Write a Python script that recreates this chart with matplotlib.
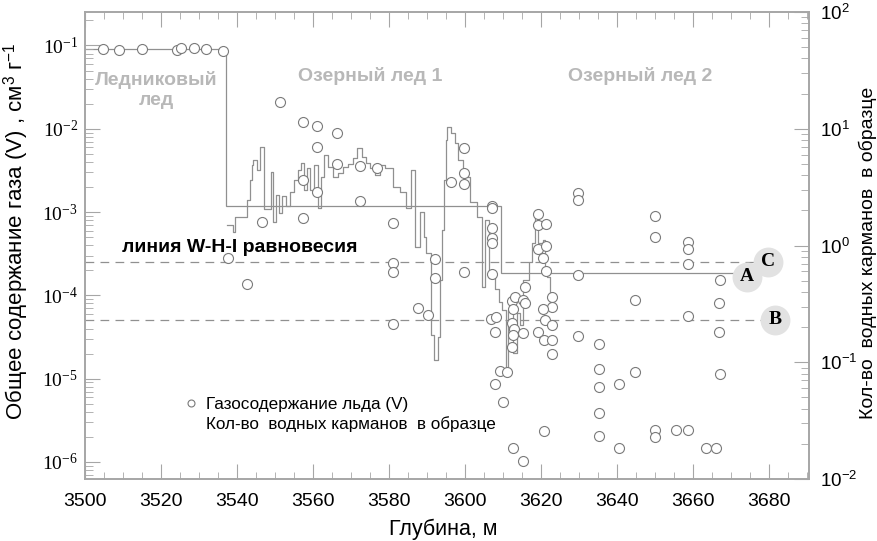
import numpy as np
import matplotlib
matplotlib.use("Agg")
import matplotlib.pyplot as plt
from matplotlib.ticker import LogLocator, FuncFormatter, MultipleLocator, NullFormatter
from matplotlib.lines import Line2D

plt.rcParams["font.family"] = "Liberation Sans"
plt.rcParams["mathtext.fontset"] = "custom"
plt.rcParams["mathtext.rm"] = "Liberation Serif"
plt.rcParams["mathtext.sf"] = "Liberation Sans"
plt.rcParams["mathtext.it"] = "Liberation Serif:italic"
plt.rcParams["mathtext.bf"] = "Liberation Serif:bold"

# gas content of ice samples (left axis), depth in m, V in cm3/g
gas_depth = [3504.7, 3508.9, 3515.0, 3524.2, 3525.3, 3528.7, 3531.8, 3536.3,
             3537.7, 3542.6, 3546.7, 3551.3, 3557.3, 3557.3, 3557.3, 3561.0,
             3561.0, 3561.0, 3566.2, 3566.2, 3572.4, 3572.4, 3576.8, 3581.1,
             3581.1, 3581.1, 3581.1, 3587.7, 3590.3, 3592.1, 3592.1, 3596.3,
             3599.7, 3599.7, 3599.8, 3599.7, 3606.8, 3607.2, 3607.2, 3607.2,
             3607.2, 3607.2, 3607.2, 3608.1, 3607.9, 3607.9, 3609.2, 3611.0,
             3609.9, 3612.3, 3613.2, 3612.7, 3615.3, 3615.8, 3615.8, 3612.3,
             3613.0, 3612.7, 3612.3, 3615.2, 3612.7, 3615.2, 3619.1, 3619.1,
             3621.2, 3619.1, 3621.3, 3620.6, 3621.3, 3622.8, 3622.8, 3620.6,
             3621.1, 3622.8, 3619.1, 3620.8, 3622.8, 3622.8, 3620.8, 3629.6,
             3629.6, 3629.6, 3629.6, 3635.3, 3635.3, 3635.3, 3635.3, 3635.3,
             3640.6, 3640.6, 3644.6, 3644.6, 3650.0, 3650.0, 3650.0, 3650.0,
             3655.5, 3658.6, 3658.6, 3658.6, 3658.6, 3658.6, 3663.4, 3666.1,
             3667.1, 3666.9, 3666.9, 3667.1]
gas_v = [0.090, 0.087, 0.090, 0.088, 0.093, 0.093, 0.090, 0.085,
         2.79e-4, 1.36e-4, 7.5e-4, 2.11e-2, 1.22e-2, 2.43e-3, 8.6e-4, 1.08e-2,
         6.1e-3, 1.76e-3, 8.8e-3, 3.75e-3, 3.57e-3, 1.37e-3, 3.36e-3, 7.46e-4,
         2.47e-4, 1.89e-4, 4.54e-5, 7.1e-5, 5.8e-5, 2.71e-4, 1.63e-4, 2.32e-3,
         5.8e-3, 2.97e-3, 2.17e-3, 1.93e-4, 5.16e-5, 1.18e-3, 1.12e-3, 6.4e-4,
         4.84e-4, 4.22e-4, 1.81e-4, 5.46e-5, 3.6e-5, 8.6e-6, 1.24e-5, 1.21e-5,
         5.2e-6, 8.6e-5, 9.6e-5, 6.8e-5, 8.8e-5, 8.2e-5, 1.25e-4, 4.6e-5,
         4.0e-5, 3.3e-5, 2.4e-5, 3.5e-5, 1.46e-6, 1.03e-6, 9.4e-4, 7.0e-4,
         7.2e-4, 3.57e-4, 3.92e-4, 2.79e-4, 1.96e-4, 9.5e-5, 7.3e-5, 6.8e-5,
         5.07e-5, 4.42e-5, 3.67e-5, 2.92e-5, 2.92e-5, 1.96e-5, 2.38e-6, 1.68e-3,
         1.40e-3, 1.76e-4, 3.26e-5, 2.59e-5, 1.31e-5, 7.94e-6, 3.85e-6, 2.05e-6,
         8.6e-6, 1.49e-6, 8.8e-5, 1.21e-5, 8.97e-4, 5.07e-4, 2.42e-6, 2.01e-6,
         2.42e-6, 4.33e-4, 3.64e-4, 2.36e-4, 5.7e-5, 2.42e-6, 1.49e-6, 1.49e-6,
         1.53e-4, 8.2e-5, 3.67e-5, 1.14e-5]

# mean gas content of each ice type (left axis)
mean_edges = [3500.0, 3537.0, 3609.4, 3674.0]
mean_gas = [0.090, 1.18e-3, 1.87e-4]

# number of water pockets per sample (right axis), step profile
pocket_depth = [3537.3, 3539.0, 3539.5, 3542.6, 3543.4, 3543.9, 3544.3, 3545.2,
                3546.1, 3547.2, 3548.9, 3549.5, 3550.3, 3551.1, 3551.8, 3552.9,
                3553.9, 3555.0, 3556.1, 3556.8, 3557.6, 3558.4, 3559.2, 3560.3,
                3561.3, 3562.1, 3562.9, 3563.9, 3565.3, 3566.6, 3567.9, 3569.2,
                3570.5, 3571.6, 3572.9, 3573.9, 3575.0, 3576.3, 3577.6, 3578.9,
                3581.1, 3582.9, 3584.5, 3585.8, 3586.8, 3588.2, 3589.2, 3589.7,
                3591.1, 3591.8, 3592.9, 3593.4, 3593.9, 3594.5, 3595.0, 3595.3,
                3596.3, 3597.4, 3598.2, 3599.5, 3601.3, 3603.2, 3604.5, 3605.3,
                3606.3, 3607.9, 3608.9, 3609.7, 3610.8, 3611.3, 3612.6, 3613.6,
                3614.5, 3615.3, 3616.8, 3617.6, 3618.4, 3619.2, 3620.5, 3621.1,
                3621.6, 3622.4, 3623.2]
pocket_count = [1.50, 1.31, 1.77, 2.45, 3.64, 4.89, 5.40, 4.43,
                7.02, 2.05, 4.29, 1.59, 2.71, 1.90, 2.65, 2.18,
                2.89, 3.64, 4.43, 5.09, 2.99, 4.61, 2.99, 4.89,
                2.10, 3.86, 5.96, 4.70, 3.86, 4.18, 4.70, 4.99,
                5.62, 6.84, 5.73, 5.09, 4.61, 4.02, 4.89, 4.61,
                3.17, 2.87, 2.10, 4.43, 0.97, 1.94, 1.18, 0.86,
                0.171, 0.104, 0.164, 0.51, 1.36, 3.64, 8.01, 10.35,
                9.20, 7.55, 5.40, 3.86, 2.36, 1.75, 0.44, 1.65,
                0.53, 0.42, 0.33, 0.28, 0.082, 0.28, 0.12, 0.264,
                0.21, 0.51, 0.72, 1.05, 1.79, 1.05, 1.11, 0.65,
                0.54, 0.33, 0.33]

# W-H-I equilibrium levels and marked points
whi_levels = [2.54e-4, 5.07e-5]
whi_end = [3679.8, 3681.6]
mark_names = ["C", "A", "B"]
mark_depth = [3679.8, 3674.1, 3681.6]
mark_v = [2.54e-4, 1.67e-4, 5.07e-5]

zones = ["Ледниковый\nлед", "Озерный лед 1", "Озерный лед 2"]
zone_x = [0.098, 0.394, 0.767]
zone_y = [0.833, 0.863, 0.863]

axis_gray = "#a6a6a6"
line_gray = "#909090"
mark_gray = "#7a7a7a"

fig = plt.figure(figsize=(8.77, 5.41), dpi=100)
ax = fig.add_axes([0.0969, 0.1146, 0.8255, 0.8632])
ax2 = ax.twinx()
ax.set_zorder(ax2.get_zorder() + 1)
ax.patch.set_visible(False)

ax.set_yscale("log")
ax2.set_yscale("log")

ax2.plot(pocket_depth, pocket_count, drawstyle="steps-post", color=line_gray, lw=0.9)
ax.stairs(mean_gas, mean_edges, baseline=None, color=line_gray, lw=0.9)

for lvl, xe in zip(whi_levels, whi_end):
    ax.hlines(lvl, 3500, xe, colors=line_gray, linestyles=(0, (7, 5)), lw=0.9)

ax.plot(gas_depth, gas_v, "o", ls="none", ms=7.2, mfc="white", mec=mark_gray,
        mew=0.8, zorder=4)

for name, d, v in zip(mark_names, mark_depth, mark_v):
    ax.plot(d, v, "o", ms=21.5, mfc="#e2e2e2", mec="none", zorder=5)
    ax.text(d, v, name, ha="center", va="center", fontsize=14, fontweight="bold",
            family="Liberation Serif", zorder=6)

for txt, zx, zy in zip(zones, zone_x, zone_y):
    ax.text(zx, zy, txt, transform=ax.transAxes, ha="center", va="center",
            fontsize=14, fontweight="bold", color="#b8b8b8", linespacing=1.2)

ax.text(0.051, 0.495, "линия W-H-I равновесия", transform=ax.transAxes,
        ha="left", va="center", fontsize=14, fontweight="bold")

handles = [
    Line2D([], [], ls="none", marker="o", ms=5, mfc="white", mec=mark_gray, mew=0.8),
    Line2D([], [], color="white", lw=0),
]
ax.legend(handles, ["Газосодержание льда (V)", "Кол-во  водных карманов  в образце"],
          loc="upper left", bbox_to_anchor=(0.137, 0.176), frameon=False,
          fontsize=12.3, handlelength=0.8, handletextpad=0.45, borderpad=0,
          borderaxespad=0, labelspacing=0.28)

ax.set_xlim(3500, 3690.5)
ax.set_ylim(6.25e-7, 0.252)
ax2.set_ylim(1e-2, 1e2)

ax.xaxis.set_major_locator(MultipleLocator(20))
ax.xaxis.set_minor_locator(MultipleLocator(5))
for a in (ax, ax2):
    a.yaxis.set_major_locator(LogLocator(base=10, numticks=20))
    a.yaxis.set_minor_locator(LogLocator(base=10, subs=np.arange(2, 10), numticks=20))
    a.yaxis.set_minor_formatter(NullFormatter())
ax.yaxis.set_major_formatter(FuncFormatter(lambda v, p: r"$\mathrm{10^{%d}}$" % round(np.log10(v))))
ax2.yaxis.set_major_formatter(FuncFormatter(lambda v, p: r"$\mathsf{10^{%d}}$" % round(np.log10(v))))

ax.tick_params(axis="x", which="both", direction="in", top=True, color=axis_gray,
               labelsize=14, pad=10)
ax.tick_params(axis="x", which="major", length=11)
ax.tick_params(axis="x", which="minor", length=5)
ax.tick_params(axis="y", which="both", direction="in", color=axis_gray, labelsize=14, pad=5)
ax.tick_params(axis="y", which="major", length=11)
ax.tick_params(axis="y", which="minor", length=6)
ax2.tick_params(axis="y", which="both", direction="in", color=axis_gray, labelsize=13.5, pad=8)
ax2.tick_params(axis="y", which="major", length=11)
ax2.tick_params(axis="y", which="minor", length=6)

for a in (ax, ax2):
    for s in a.spines.values():
        s.set_color(axis_gray)
        s.set_linewidth(1.2)

ax.set_xlabel("Глубина, м", fontsize=15.5)
ax.xaxis.set_label_coords(0.495, -0.084)
ax.set_ylabel(r"Общее содержание газа (V) , см$^{\mathsf{3}}$ г$^{\mathsf{-1}}$", fontsize=16)
ax.yaxis.set_label_coords(-0.0746, 0.531)
ax2.set_ylabel("Кол-во  водных карманов  в образце", fontsize=14)
ax2.yaxis.set_label_coords(1.069, 0.484)

fig.savefig("out.png", dpi=100)
